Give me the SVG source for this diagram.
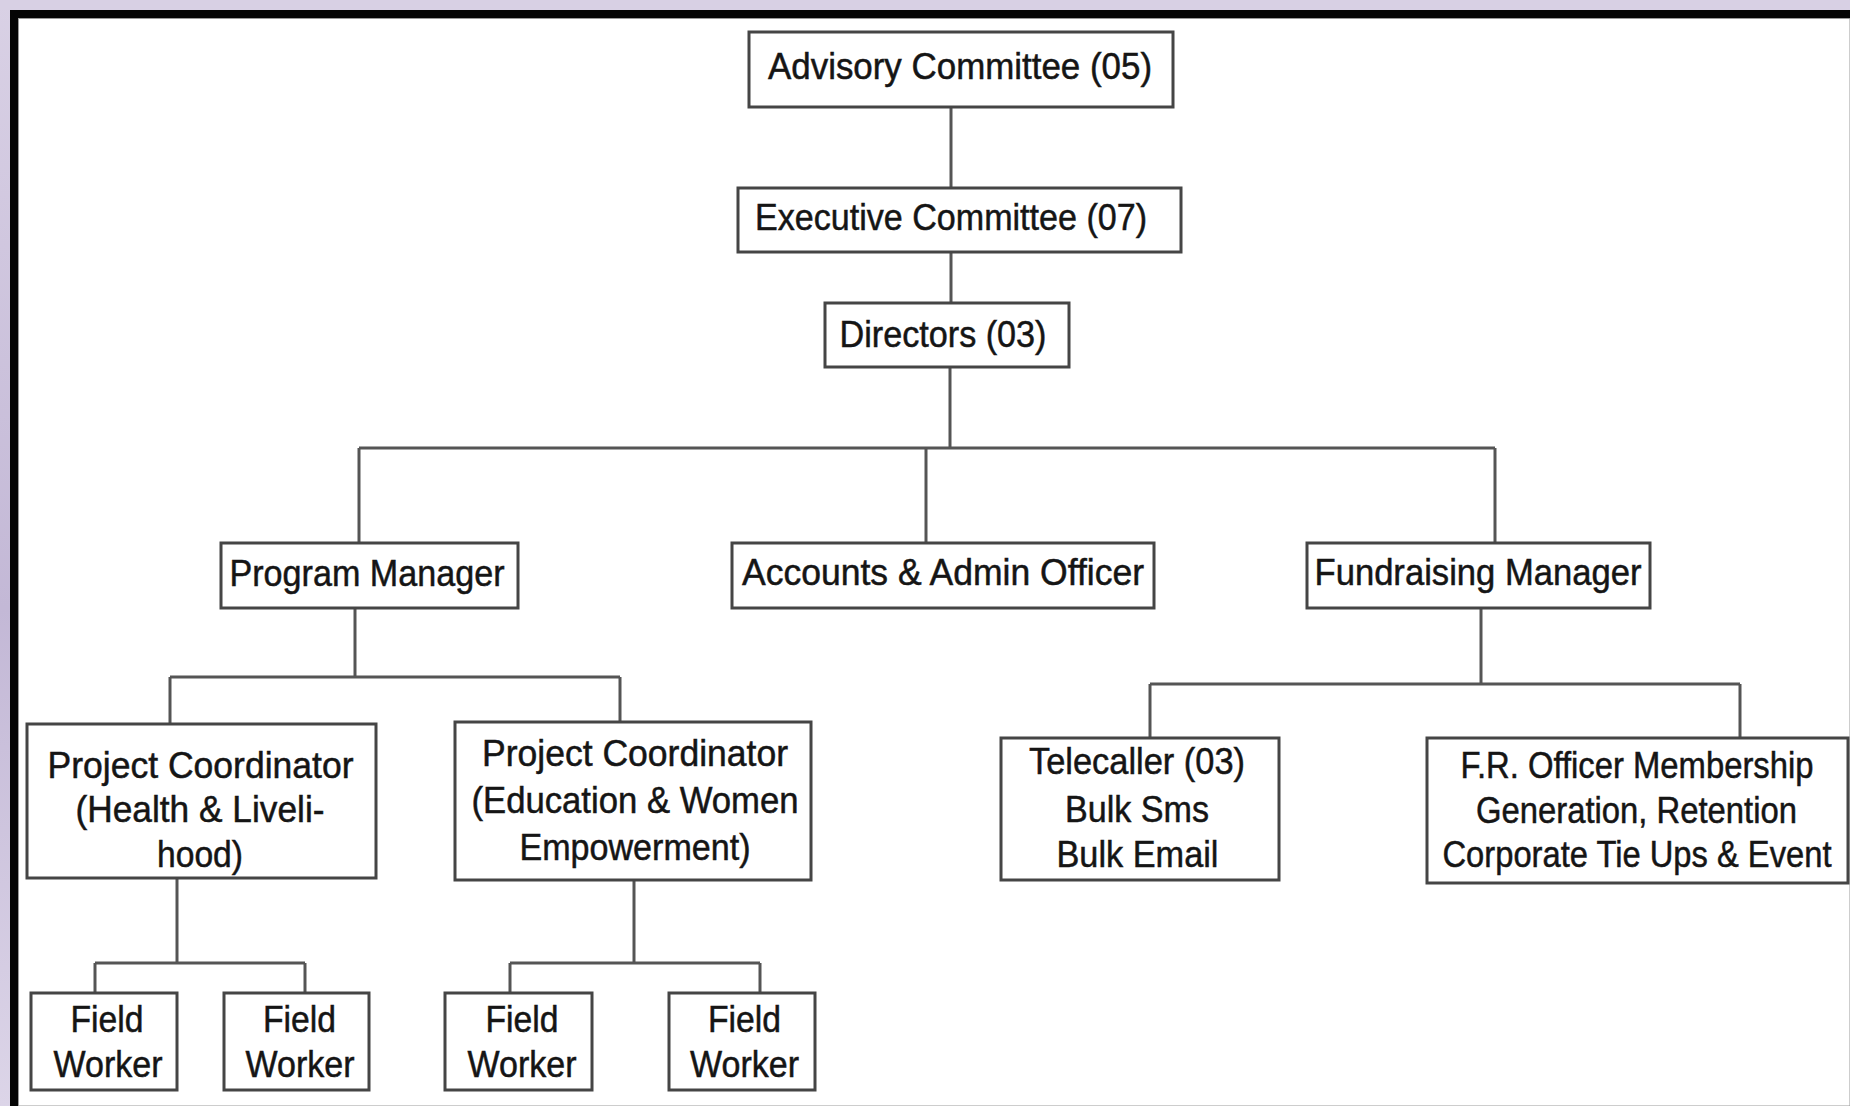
<svg xmlns="http://www.w3.org/2000/svg" width="1850" height="1106" viewBox="0 0 1850 1106">
<defs>
<linearGradient id="lav" x1="0" y1="0" x2="0" y2="1">
<stop offset="0" stop-color="#d9d1e5"/>
<stop offset="0.55" stop-color="#c3b8d6"/>
<stop offset="1" stop-color="#dcd5e8"/>
</linearGradient>
<style>
.box{fill:#ffffff;stroke:#454545;stroke-width:3}
.ln{stroke:#555555;stroke-width:3;fill:none}
text{font-family:"Liberation Sans",Arial,sans-serif;font-size:37px;fill:#151515;stroke:#151515;stroke-width:0.5;text-anchor:middle}
</style>
</defs>
<rect x="0" y="0" width="1850" height="1106" fill="url(#lav)"/>
<rect x="0" y="0" width="1850" height="10" fill="#d8d0e4"/>
<rect x="10" y="10" width="1840" height="1096" fill="#050505"/>
<rect x="18.5" y="18.5" width="1831.5" height="1087.5" fill="#ffffff" stroke="#9a9a9a" stroke-width="1"/>

<g id="connectors">
<line class="ln" x1="951" y1="107" x2="951" y2="188"/>
<line class="ln" x1="951" y1="252" x2="951" y2="303"/>
<line class="ln" x1="950" y1="367" x2="950" y2="448"/>
<line class="ln" x1="359" y1="448" x2="1495" y2="448"/>
<line class="ln" x1="359" y1="448" x2="359" y2="543"/>
<line class="ln" x1="926" y1="448" x2="926" y2="543"/>
<line class="ln" x1="1495" y1="448" x2="1495" y2="543"/>
<line class="ln" x1="355" y1="608" x2="355" y2="677"/>
<line class="ln" x1="170" y1="677" x2="620" y2="677"/>
<line class="ln" x1="170" y1="677" x2="170" y2="724"/>
<line class="ln" x1="620" y1="677" x2="620" y2="722"/>
<line class="ln" x1="1481" y1="608" x2="1481" y2="684"/>
<line class="ln" x1="1150" y1="684" x2="1740" y2="684"/>
<line class="ln" x1="1150" y1="684" x2="1150" y2="738"/>
<line class="ln" x1="1740" y1="684" x2="1740" y2="738"/>
<line class="ln" x1="177" y1="878" x2="177" y2="963"/>
<line class="ln" x1="95" y1="963" x2="305" y2="963"/>
<line class="ln" x1="95" y1="963" x2="95" y2="993"/>
<line class="ln" x1="305" y1="963" x2="305" y2="993"/>
<line class="ln" x1="634" y1="880" x2="634" y2="963"/>
<line class="ln" x1="510" y1="963" x2="760" y2="963"/>
<line class="ln" x1="510" y1="963" x2="510" y2="993"/>
<line class="ln" x1="760" y1="963" x2="760" y2="993"/>
</g>

<g id="advisory">
<rect class="box" x="749" y="32" width="424" height="75"/>
<text x="960" y="79" textLength="384" lengthAdjust="spacingAndGlyphs">Advisory Committee (05)</text>
</g>
<g id="executive">
<rect class="box" x="738" y="188" width="443" height="64"/>
<text x="951" y="230" textLength="392" lengthAdjust="spacingAndGlyphs">Executive Committee (07)</text>
</g>
<g id="directors">
<rect class="box" x="825" y="303" width="244" height="64"/>
<text x="943" y="347" textLength="207" lengthAdjust="spacingAndGlyphs">Directors (03)</text>
</g>
<g id="program-manager">
<rect class="box" x="221" y="543" width="297" height="65"/>
<text x="367" y="585.5" textLength="275" lengthAdjust="spacingAndGlyphs">Program Manager</text>
</g>
<g id="accounts-admin">
<rect class="box" x="732" y="543" width="422" height="65"/>
<text x="943" y="585" textLength="402" lengthAdjust="spacingAndGlyphs">Accounts &amp; Admin Officer</text>
</g>
<g id="fundraising-manager">
<rect class="box" x="1307" y="543" width="343" height="65"/>
<text x="1478" y="585" textLength="327" lengthAdjust="spacingAndGlyphs">Fundraising Manager</text>
</g>
<g id="pc-health">
<rect class="box" x="27" y="724" width="349" height="154"/>
<text x="200.5" y="778" textLength="306" lengthAdjust="spacingAndGlyphs">Project Coordinator</text>
<text x="200" y="822" textLength="249" lengthAdjust="spacingAndGlyphs">(Health &amp; Liveli-</text>
<text x="200" y="866.5" textLength="86" lengthAdjust="spacingAndGlyphs">hood)</text>
</g>
<g id="pc-education">
<rect class="box" x="455" y="722" width="356" height="158"/>
<text x="635" y="765.5" textLength="306" lengthAdjust="spacingAndGlyphs">Project Coordinator</text>
<text x="635" y="813" textLength="327" lengthAdjust="spacingAndGlyphs">(Education &amp; Women</text>
<text x="635" y="860" textLength="231" lengthAdjust="spacingAndGlyphs">Empowerment)</text>
</g>
<g id="telecaller">
<rect class="box" x="1001" y="738" width="278" height="142"/>
<text x="1137" y="774" textLength="216" lengthAdjust="spacingAndGlyphs">Telecaller (03)</text>
<text x="1137" y="822" textLength="144" lengthAdjust="spacingAndGlyphs">Bulk Sms</text>
<text x="1137.5" y="866.5" textLength="162" lengthAdjust="spacingAndGlyphs">Bulk Email</text>
</g>
<g id="fr-officer">
<rect class="box" x="1427" y="738" width="421" height="145"/>
<text x="1637" y="778" textLength="353" lengthAdjust="spacingAndGlyphs">F.R. Officer Membership</text>
<text x="1636.5" y="823" textLength="321" lengthAdjust="spacingAndGlyphs">Generation, Retention</text>
<text x="1637" y="866.5" textLength="389" lengthAdjust="spacingAndGlyphs">Corporate Tie Ups &amp; Event</text>
</g>
<g id="field-worker-1">
<rect class="box" x="31" y="993" width="146" height="97"/>
<text x="107" y="1032" textLength="73" lengthAdjust="spacingAndGlyphs">Field</text>
<text x="108" y="1076.5" textLength="109" lengthAdjust="spacingAndGlyphs">Worker</text>
</g>
<g id="field-worker-2">
<rect class="box" x="224" y="993" width="145" height="97"/>
<text x="299.5" y="1032" textLength="73" lengthAdjust="spacingAndGlyphs">Field</text>
<text x="300" y="1076.5" textLength="109" lengthAdjust="spacingAndGlyphs">Worker</text>
</g>
<g id="field-worker-3">
<rect class="box" x="445" y="993" width="147" height="97"/>
<text x="522" y="1032" textLength="73" lengthAdjust="spacingAndGlyphs">Field</text>
<text x="522" y="1076.5" textLength="109" lengthAdjust="spacingAndGlyphs">Worker</text>
</g>
<g id="field-worker-4">
<rect class="box" x="669" y="993" width="146" height="97"/>
<text x="744.5" y="1032" textLength="73" lengthAdjust="spacingAndGlyphs">Field</text>
<text x="744.5" y="1076.5" textLength="109" lengthAdjust="spacingAndGlyphs">Worker</text>
</g>
</svg>
